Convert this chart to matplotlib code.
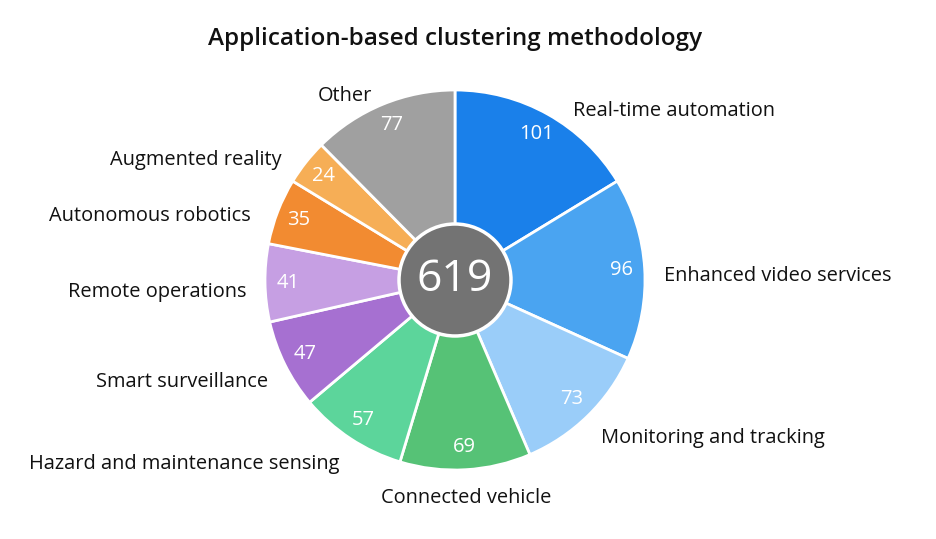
import matplotlib
matplotlib.use("Agg")
import matplotlib.pyplot as plt
from matplotlib.patches import Circle
import numpy as np

# data (clockwise from 12 o'clock)
categories = ["Real-time automation", "Enhanced video services", "Monitoring and tracking",
              "Connected vehicle", "Hazard and maintenance sensing", "Smart surveillance",
              "Remote operations", "Autonomous robotics", "Augmented reality", "Other"]
counts = [101, 96, 73, 69, 57, 47, 41, 35, 24, 77]
colors = ["#1a80ea", "#4aa4f1", "#9acdf9", "#56c276", "#5cd59b",
          "#a670d1", "#c69fe3", "#f28b31", "#f6ae56", "#a0a0a0"]
total_label = "619"
title = "Application-based clustering methodology"

plt.rcParams['font.family'] = ['Open Sans', 'DejaVu Sans']

fig = plt.figure(figsize=(9.36, 5.39), dpi=100)
ax = fig.add_axes([0, 0, 1, 1])

cx, cy, r = 455, 259, 190
total = sum(counts)

wedges, texts, autotexts = ax.pie(
    counts, colors=colors, labels=categories, startangle=90, counterclock=False,
    center=(cx, cy), radius=r, labeldistance=1.1, pctdistance=0.88,
    autopct=lambda p: "%d" % round(p * total / 100),
    wedgeprops=dict(edgecolor="white", linewidth=2),
    textprops=dict(fontsize=14.4, color="#111111"), frame=True)
ax.set_xlim(0, 936)
ax.set_ylim(0, 539)
ax.set_aspect('equal')
ax.axis('off')

for t in autotexts:
    t.set_color("white")
    t.set_fontsize(14.5)

# small nudges (px) so labels sit where the original places them
nudge = {0: (16, -4), 7: (-9, -3), 8: (-9, -1), 9: (-3, 0)}

# outside labels: align by which side of the pie they sit on
for i, (w, t) in enumerate(zip(wedges, texts)):
    mid = np.deg2rad((w.theta1 + w.theta2) / 2)
    c = np.cos(mid)
    if abs(c) < 0.15:
        t.set_ha("center")
    elif c > 0:
        t.set_ha("left")
    else:
        t.set_ha("right")
    x, y = t.get_position()
    dx, dy = nudge.get(i, (0, 0))
    t.set_position((x + dx, y - 9 + dy))

ax.add_patch(Circle((cx, cy), 56, facecolor="#737373", edgecolor="white", linewidth=2.5, zorder=5))
ax.text(cx, cy, total_label, ha="center", va="center", fontsize=32, color="white", zorder=6)

fig.text(455 / 936, 1 - 39 / 539, title, ha="center", va="center", fontsize=17.5, fontweight="semibold", color="#111111")

fig.savefig("out.png", dpi=100, facecolor="white")
